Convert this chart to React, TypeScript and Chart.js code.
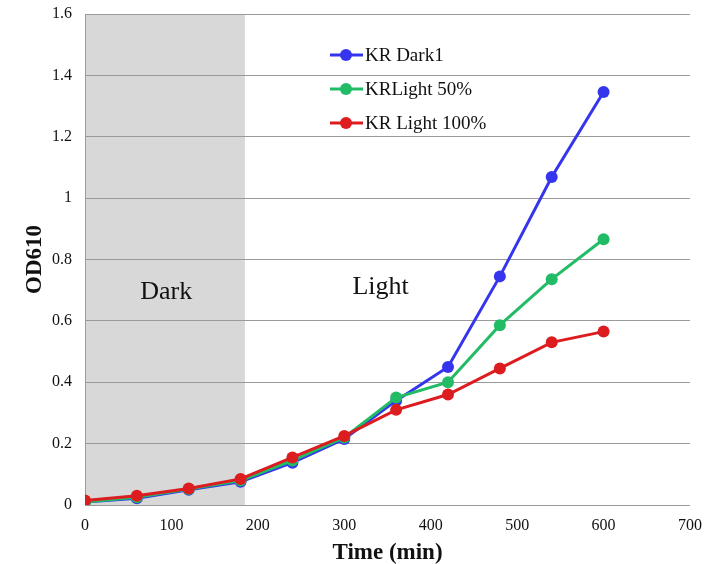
import React, { useEffect, useRef } from "react";
import { Chart, registerables } from "chart.js";

Chart.register(...registerables);

const timeMin = [0, 60, 120, 180, 240, 300, 360, 420, 480, 540, 600];
const krDark1 = [0.01, 0.022, 0.05, 0.076, 0.138, 0.215, 0.34, 0.45, 0.745, 1.069, 1.346];
const krLight50 = [0.01, 0.025, 0.052, 0.08, 0.145, 0.22, 0.35, 0.4, 0.586, 0.736, 0.866];
const krLight100 = [0.015, 0.03, 0.054, 0.085, 0.155, 0.225, 0.31, 0.36, 0.445, 0.53, 0.565];
const seriesNames = ["KR Dark1", "KRLight 50%", "KR Light 100%"];
const seriesColors = ["#3535ee", "#22bb66", "#dd1c1f"];
const darkPeriod = [0, 185];
const regionLabels = [
  { text: "Dark", x: 94, y: 0.695 },
  { text: "Light", x: 342, y: 0.71 },
];

const SERIF = "'Liberation Serif', 'DejaVu Serif', serif";

const shadePlugin = {
  id: "shade",
  beforeDraw(chart: any) {
    const { ctx, chartArea, scales } = chart;
    const x0 = scales.x.getPixelForValue(darkPeriod[0]);
    const x1 = scales.x.getPixelForValue(darkPeriod[1]);
    ctx.save();
    ctx.fillStyle = "#d8d8d8";
    ctx.fillRect(x0, chartArea.top, x1 - x0, chartArea.bottom - chartArea.top);
    ctx.restore();
  },
  afterDatasetsDraw(chart: any) {
    const { ctx, chartArea, scales } = chart;
    ctx.save();
    ctx.fillStyle = "#111";
    ctx.font = `26px ${SERIF}`;
    ctx.textAlign = "center";
    ctx.textBaseline = "middle";
    regionLabels.forEach((r) => {
      ctx.fillText(r.text, scales.x.getPixelForValue(r.x), scales.y.getPixelForValue(r.y));
    });
    // legend
    const lx = chartArea.left + 245;
    chart.data.datasets.forEach((ds: any, i: number) => {
      const y = chartArea.top + 41 + i * 34;
      ctx.strokeStyle = ds.borderColor;
      ctx.lineWidth = 3;
      ctx.beginPath();
      ctx.moveTo(lx, y);
      ctx.lineTo(lx + 33, y);
      ctx.stroke();
      ctx.fillStyle = ds.borderColor;
      ctx.beginPath();
      ctx.arc(lx + 16, y, 6, 0, Math.PI * 2);
      ctx.fill();
      ctx.fillStyle = "#111";
      ctx.font = `19px ${SERIF}`;
      ctx.textAlign = "left";
      ctx.fillText(ds.label, lx + 35, y + 1);
    });
    ctx.restore();
  },
};

export default function App() {
  const ref = useRef<HTMLCanvasElement>(null);
  useEffect(() => {
    if (!ref.current) return;
    const data = [krDark1, krLight50, krLight100];
    const chart = new Chart(ref.current, {
      type: "line",
      data: {
        datasets: data.map((vals, i) => ({
          label: seriesNames[i],
          data: vals.map((v, j) => ({ x: timeMin[j], y: v })),
          borderColor: seriesColors[i],
          backgroundColor: seriesColors[i],
          borderWidth: 3,
          pointRadius: 6,
          pointBorderWidth: 0,
          pointHoverRadius: 6,
          order: 2 - i,
          tension: 0,
        })),
      },
      options: {
        animation: false,
        responsive: false,
        maintainAspectRatio: false,
        layout: { padding: { top: 14, right: 14, left: 0, bottom: 0 } },
        plugins: { legend: { display: false }, tooltip: { enabled: false } },
        scales: {
          x: {
            type: "linear",
            min: 0,
            max: 700,
            ticks: { stepSize: 100, color: "#111", font: { family: SERIF, size: 16 }, padding: 11, maxRotation: 0 },
            grid: { display: false, drawTicks: false },
            border: { display: false },
            title: { display: true, text: "Time (min)", color: "#111", font: { family: SERIF, size: 23, weight: "bold", lineHeight: 0.95 }, padding: 0 },
            afterFit(scale: any) {
              scale.height = 59;
              scale.paddingLeft = 0;
              scale.paddingRight = 0;
            },
          },
          y: {
            min: 0,
            max: 1.6,
            ticks: {
              stepSize: 0.2,
              color: "#111",
              font: { family: SERIF, size: 16 },
              padding: 13,
              callback: (v: any) => String(Number(Number(v).toFixed(1))),
            },
            grid: { color: "#9a9a9a", lineWidth: 1, drawTicks: false },
            border: { display: true, color: "#9a9a9a", width: 1 },
            title: { display: true, text: "OD610", color: "#111", font: { family: SERIF, size: 23, weight: "bold", lineHeight: 1.1 }, padding: { top: 22, bottom: 0 } },
            afterFit(scale: any) {
              scale.width = 85;
              scale.paddingTop = 0;
              scale.paddingBottom = 0;
            },
          },
        },
      } as any,
      plugins: [shadePlugin],
    });
    return () => chart.destroy();
  }, []);
  return (
    <div style={{ position: "fixed", left: 0, top: 0, width: 704, height: 564, background: "#fff" }}>
      <canvas ref={ref} width={704} height={564} style={{ width: 704, height: 564 }} />
    </div>
  );
}
